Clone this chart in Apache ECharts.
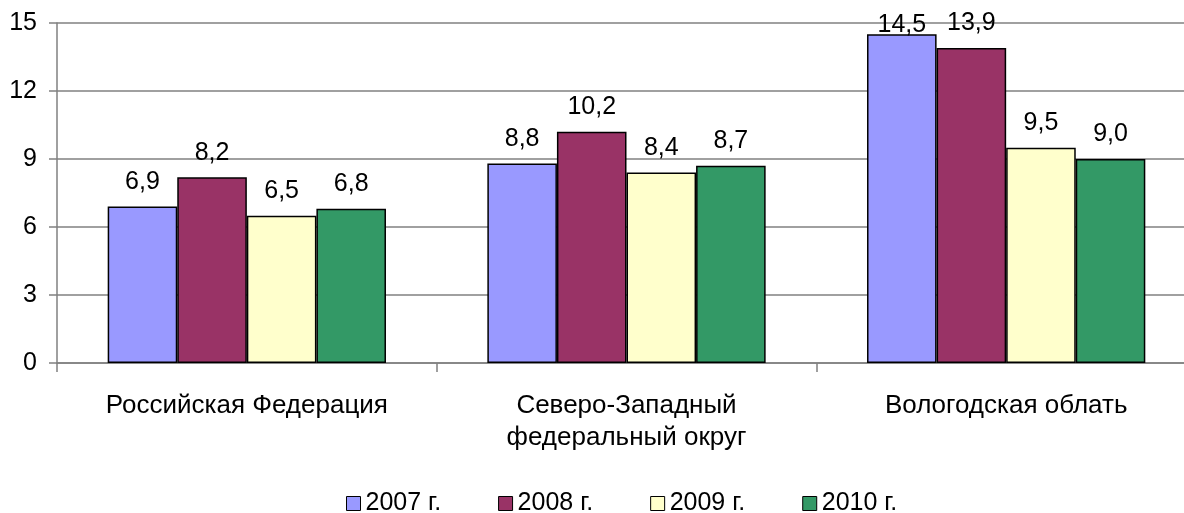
<!DOCTYPE html>
<html>
<head>
<meta charset="utf-8">
<script src="https://cdn.jsdelivr.net/npm/echarts@6/dist/echarts.min.js"></script>
<style>
  html, body { margin: 0; padding: 0; background: #fff; overflow: hidden; }
  /* plot area runs past the right edge of the picture, as in the original */
  #chart { width: 1196px; height: 513px; }
</style>
</head>
<body>
<div id="chart"></div>
<script>
// данные с диаграммы
var categories = ['Российская Федерация', 'Северо-Западный\nфедеральный округ', 'Вологодская облать']
var years = ['2007 г.', '2008 г.', '2009 г.', '2010 г.']
var v2007 = [6.9, 8.8, 14.5]
var v2008 = [8.2, 10.2, 13.9]
var v2009 = [6.5, 8.4, 9.5]
var v2010 = [6.8, 8.7, 9.0]
var yTicks = [0, 3, 6, 9, 12, 15]

var colors = ['#9999ff', '#993366', '#ffffcc', '#339966']
var font = 'Liberation Sans, Arial, sans-serif'

function fmt(v) {
  return v.toFixed(1).replace('.', ',')
}

function makeSeries(name, data) {
  return {
    name: name,
    type: 'bar',
    // подпись у самого высокого столбца прижата к верху, как в Excel
    data: data.map(function(v) {
      return v > 14 ? { value: v, label: { offset: [0, 15] } } : v
    }),
    barGap: '0%',
    barCategoryGap: '26.7%',
    itemStyle: { borderColor: '#000', borderWidth: 1.5 },
    label: {
      show: true,
      position: 'top',
      distance: 12,
      color: '#000',
      fontFamily: font,
      fontSize: 25,
      formatter: function(p) {
        return fmt(p.value)
      }
    }
  }
}

var chart = echarts.init(document.getElementById('chart'))
chart.setOption({
  animation: false,
  color: colors,
  grid: { left: 57, right: 0, top: 23, bottom: 150, containLabel: false },
  legend: {
    left: 341,
    top: 486,
    itemWidth: 14,
    itemHeight: 14,
    itemGap: 57,
    icon: 'rect',
    itemStyle: { borderColor: '#000', borderWidth: 1 },
    textStyle: { fontFamily: font, fontSize: 25, color: '#000' },
    data: years
  },
  xAxis: {
    type: 'category',
    data: categories,
    axisLine: { lineStyle: { color: '#808080', width: 1.5 } },
    axisTick: { show: true, length: 9, lineStyle: { color: '#808080', width: 1.5 } },
    axisLabel: { color: '#000', fontFamily: font, fontSize: 26, lineHeight: 32, margin: 27 }
  },
  yAxis: {
    type: 'value',
    min: yTicks[0],
    max: yTicks[yTicks.length - 1],
    interval: 3,
    axisLine: { show: true, lineStyle: { color: '#808080', width: 1.5 } },
    axisTick: { show: true, length: 8, lineStyle: { color: '#808080', width: 1.5 } },
    axisLabel: { color: '#000', fontFamily: font, fontSize: 25, margin: 20 },
    splitLine: { lineStyle: { color: '#808080', width: 1.5 } }
  },
  series: [
    makeSeries(years[0], v2007),
    makeSeries(years[1], v2008),
    makeSeries(years[2], v2009),
    makeSeries(years[3], v2010)
  ]
})
</script>
</body>
</html>
